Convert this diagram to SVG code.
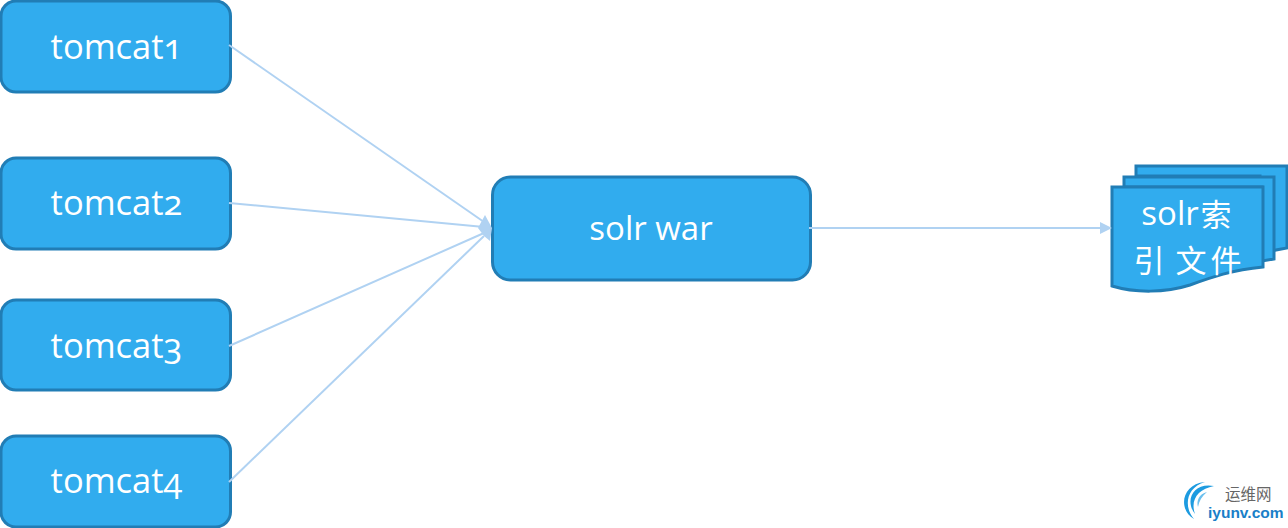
<svg xmlns="http://www.w3.org/2000/svg" width="1288" height="528" viewBox="0 0 1288 528">
<defs>
<style>
.box{fill:#31acee;stroke:#217db5;stroke-width:3}
.lbl{fill:#fff;font-family:"Open Sans","Noto Sans CJK SC",sans-serif;font-size:33px;text-anchor:middle;font-variant-numeric:oldstyle-nums}
.tc{font-size:34.5px}
.cjk{fill:#fff;font-family:"Noto Sans CJK SC",sans-serif;font-size:31px;text-anchor:middle}
.conn{fill:none;stroke:#b0d2f2;stroke-width:2}
.head{fill:#b0d2f2}
</style>
</defs>
<rect width="1288" height="528" fill="#fff"/>
<g id="tomcat1"><rect class="box" x="1" y="1" width="229.500" height="91" rx="15"/><text class="lbl tc" x="116.500" y="59">tomcat1</text></g>
<g id="tomcat2"><rect class="box" x="1" y="158" width="229.500" height="91" rx="15"/><text class="lbl tc" x="116.500" y="215">tomcat2</text></g>
<g id="tomcat3"><rect class="box" x="1" y="300" width="229.500" height="90" rx="15"/><text class="lbl tc" x="116.500" y="358">tomcat3</text></g>
<g id="tomcat4"><rect class="box" x="1" y="436" width="229.500" height="91" rx="15"/><text class="lbl tc" x="116.500" y="493">tomcat4</text></g>
<g id="solr-war"><rect class="box" x="492.500" y="177" width="318" height="103" rx="18"/><text class="lbl" x="651" y="240">solr war</text></g>
<g id="solr-index">
<path class="box" d="M1136 166H1287V248L1260 253V176H1136Z"/>
<path class="box" d="M1124 177H1274V259L1262 261V187H1124Z"/>
<path class="box" d="M1112 187H1263V267C1232 270 1212 277 1190 285C1165 293 1135 293 1112 286Z"/>
<text class="lbl" x="1170" y="225">solr</text><text class="cjk" x="1216" y="226">索</text>
<text class="cjk" x="1149" y="272">引</text><text class="cjk" x="1191" y="272">文</text><text class="cjk" x="1226" y="272">件</text>
</g>
<g id="connectors">
<path class="conn" d="M229 45L484 222"/>
<path class="conn" d="M229 203L484 227"/>
<path class="conn" d="M229 346L484 233"/>
<path class="conn" d="M229 482L484 236"/>
<path class="conn" d="M809 228H1102"/>
<path class="head" d="M492 228L485 215L478 228L484 236L490 241Z"/>
<path class="head" d="M1112 228L1100 222V234Z"/>
</g>
<g id="watermark">
<path d="M1205 482C1181 484 1178 510 1194 519C1184 508 1185 488 1205 482Z" fill="#1d9be0"/>
<path d="M1214 486C1194 482 1184 500 1195 514C1190 500 1198 489 1214 486Z" fill="#1d9be0"/>
<path d="M1207 492C1199 494 1196 501 1198 507C1199 501 1202 496 1207 492Z" fill="#6cc0ee"/>
<text x="1225" y="500" font-family="'Noto Sans CJK SC',sans-serif" font-size="15.500" fill="#666">运维网</text>
<text x="1208" y="518" font-family="'Liberation Sans',sans-serif" font-size="15.500" font-weight="bold" fill="#1a7fc8">iyunv.com</text>
</g>
</svg>
